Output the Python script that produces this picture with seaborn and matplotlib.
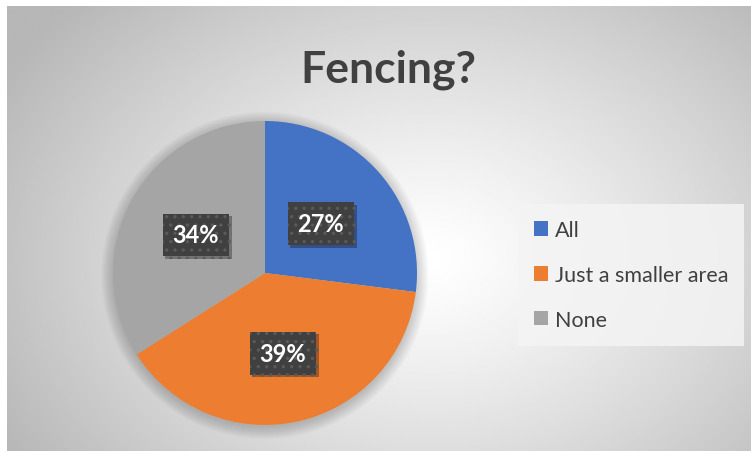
import numpy as np
import matplotlib
matplotlib.use("Agg")
import matplotlib.pyplot as plt
import matplotlib.patheffects as pe
import seaborn as sns
from matplotlib.patches import Circle, Patch

# data
labels = ["All", "Just a smaller area", "None"]
shares = [27, 39, 34]
colors = ["#4472C4", "#ED7D31", "#A5A5A5"]
title = "Fencing?"

sns.set_theme(style="white")
plt.rcParams["font.family"] = ["Lato", "DejaVu Sans"]
plt.rcParams["hatch.color"] = "#5a5a5a"
plt.rcParams["hatch.linewidth"] = 1.2

W, H = 751, 452
fig = plt.figure(figsize=(W / 100, H / 100), dpi=100)
fig.patch.set_facecolor("white")

# -------- background: radial grey gradient --------
bg = fig.add_axes([7 / W, 0, (W - 7) / W, (H - 7) / H])
xx, yy = np.meshgrid(np.linspace(7, W, 400), np.linspace(7, H, 260))
d = np.sqrt(((xx - 430) / 430) ** 2 + ((yy - 260) / 320) ** 2)
shade = 1.0 - 0.24 * np.clip(d, 0, 1.15) ** 1.2
bg.imshow(shade, cmap="gray", vmin=0, vmax=1, aspect="auto",
          extent=[0, 1, 0, 1], interpolation="bilinear")
bg.set_axis_off()

# -------- pie --------
cx, cy, r = 265, 274, 152
ax = fig.add_axes([(cx - r) / W, (H - cy - r) / H, 2 * r / W, 2 * r / H])
ax.set_axis_off()

# soft shadow behind the pie
for i in range(12):
    ax.add_patch(Circle((0.0, -0.015), 1.0 + 0.007 * i, color="black",
                        alpha=0.015, lw=0, zorder=0, clip_on=False))

wedges, _ = ax.pie(shares, colors=colors, startangle=90, counterclock=False,
                   wedgeprops=dict(linewidth=0), radius=1.0)
for w in wedges:
    w.set_zorder(2)

# data labels in dark patterned boxes
total = sum(shares)
start = 90.0
for val, dist in zip(shares, [0.49, 0.54, 0.52]):
    ang = np.deg2rad(start - val / total * 360 / 2)
    start -= val / total * 360
    x, y = dist * np.cos(ang), dist * np.sin(ang)
    t = ax.text(x, y, f"{val}%", fontsize=17, fontweight="bold", color="white",
                ha="center", va="center", zorder=4,
                bbox=dict(boxstyle="square,pad=0.42", fc="#404040", ec="#5a5a5a",
                          lw=0, hatch=".."))
    t.get_bbox_patch().set_path_effects(
        [pe.SimplePatchShadow(offset=(2, -2), alpha=0.35), pe.Normal()])
ax.set_xlim(-1, 1)
ax.set_ylim(-1, 1)

# -------- title --------
fig.text(388 / W, 1 - 70 / H, title, fontsize=32, fontweight="bold",
         color="#404040", ha="center", va="center")

# -------- legend --------
handles = [Patch(facecolor=c, edgecolor="none") for c in colors]
leg = fig.legend(handles, labels, loc="upper left",
                 bbox_to_anchor=(518 / W, 1 - 205 / H), fontsize=15.5,
                 frameon=True, fancybox=False, labelspacing=1.15,
                 handlelength=0.65, handleheight=0.65, handletextpad=0.3,
                 borderpad=0.75, borderaxespad=0)
for t in leg.get_texts():
    t.set_color("#404040")
frame = leg.get_frame()
frame.set_facecolor("#f4f4f4")
frame.set_alpha(0.85)
frame.set_edgecolor("none")

fig.savefig("out.png", dpi=100)
plt.close()
